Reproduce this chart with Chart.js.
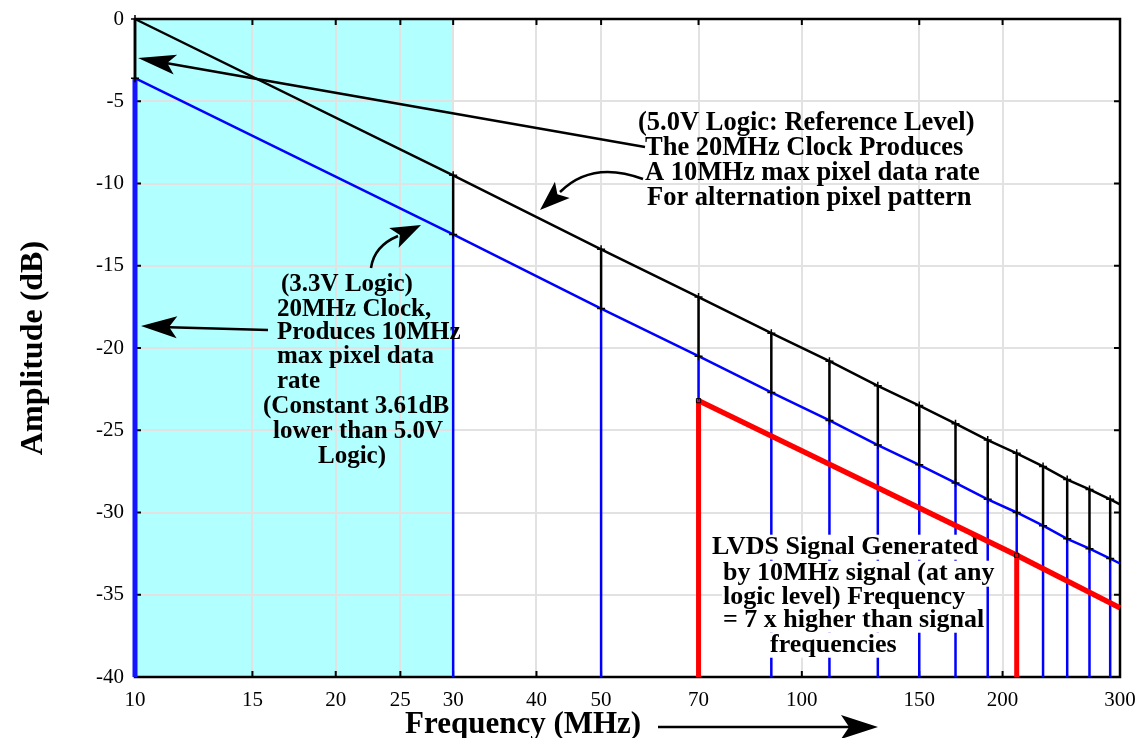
<!DOCTYPE html>
<html>
<head>
<meta charset="utf-8">
<script src="https://cdn.jsdelivr.net/npm/chart.js@4.4.1/dist/chart.umd.min.js"></script>
<style>
html,body{margin:0;padding:0;background:#fff;}
canvas{display:block;}
</style>
</head>
<body>
<canvas id="spectrum" width="1142" height="738"></canvas>
<script>

// odd harmonics (MHz) of the 10MHz pixel pattern
const harmonics=[10,30,50,70,90,110,130,150,170,190,210,230,250,270,290];

// amplitude (dB) at each harmonic, 5.0V logic (reference)
const amp50=[0,-9.5,-14.0,-16.9,-19.1,-20.8,-22.3,-23.5,-24.6,-25.6,-26.4,-27.2,-28.0,-28.6,-29.2];

// amplitude (dB) at each harmonic, 3.3V logic
const amp33=[-3.6,-13.1,-17.6,-20.5,-22.7,-24.4,-25.9,-27.1,-28.2,-29.2,-30.0,-30.8,-31.6,-32.2,-32.8];

// envelopes run on to the right edge
const endFreq=300;
const amp50End=-29.5;
const amp33End=-33.1;

// LVDS envelope (MHz, dB) and its two stems
const lvdsFreq=[70,210,300];
const lvdsAmp=[-23.2,-32.6,-35.8];
const lvdsStemCount=2;

// shaded band
const bandFreq=[10,30];

// axes
const xTickValues=[10,15,20,25,30,40,50,70,100,150,200,300];
const xMin=10;
const xMax=300;
const yMin=-40;
const yMax=0;
const yStep=5;

const FONT="'Liberation Serif','Times New Roman',serif";
Chart.defaults.font.family=FONT;
Chart.defaults.color="#000";


function stems(freqs,lows,highs){
    let pts=[];
    freqs.forEach((f,i)=>{
        pts.push({x:f,y:lows[i]});
        pts.push({x:f,y:highs[i]});
        pts.push({x:f,y:null});
    });
    return pts;
}

function envelope(freqs,amps,lastFreq,lastAmp){
    let pts=freqs.map((f,i)=>({x:f,y:amps[i]}));
    if(lastFreq!==undefined){
        pts.push({x:lastFreq,y:lastAmp});
    }
    return pts;
}

const bottoms=harmonics.map(()=>yMin);


function arrowHead(ctx,tipX,tipY,fromX,fromY,len,half){
    const a=Math.atan2(tipY-fromY,tipX-fromX);
    ctx.save();
    ctx.translate(tipX,tipY);
    ctx.rotate(a);
    ctx.beginPath();
    ctx.moveTo(0,0);
    ctx.lineTo(-len,-half);
    ctx.lineTo(-len*0.78,0);
    ctx.lineTo(-len,half);
    ctx.closePath();
    ctx.fill();
    ctx.restore();
}

function textBlock(ctx,lines,font,withBox){
    ctx.font=font;
    ctx.textBaseline="middle";
    ctx.textAlign="left";
    if(withBox){
        ctx.fillStyle="#fff";
        lines.forEach(l=>{
            const m=ctx.measureText(l[0]);
            ctx.fillRect(
                l[1]-1,
                l[2]-m.actualBoundingBoxAscent-1,
                m.width+1,
                m.actualBoundingBoxAscent+m.actualBoundingBoxDescent+2
            );
        });
    }
    ctx.fillStyle="#000";
    lines.forEach(l=>{
        ctx.fillText(l[0],l[1],l[2]);
    });
}

const note50=[
    ["(5.0V Logic: Reference Level)",638,123],
    ["The 20MHz Clock Produces",645,148],
    ["A 10MHz max pixel data rate",645,173],
    ["For alternation pixel pattern",647,198]
];

const note33=[
    ["(3.3V Logic)",281,285],
    ["20MHz Clock,",277,310],
    ["Produces 10MHz",277,333],
    ["max pixel data",277,357],
    ["rate",277,382],
    ["(Constant 3.61dB",263,407],
    ["lower than 5.0V",273,432],
    ["Logic)",318,457]
];

const noteLvds=[
    ["LVDS Signal Generated",712,547],
    ["by 10MHz signal (at any",723,573],
    ["logic level) Frequency",723,597],
    ["= 7 x higher than signal",723,620],
    ["frequencies",770,645]
];

// index of the dataset drawn last (LVDS envelope); the boxed note goes just under it
const TOP_DATASET=0;


const decor={
    id:"decor",

    beforeDraw(chart){
        const {ctx,chartArea:a,scales:{x}}=chart;
        const x0=x.getPixelForValue(bandFreq[0]);
        const x1=x.getPixelForValue(bandFreq[1]);
        ctx.save();
        ctx.fillStyle="#b2ffff";
        ctx.fillRect(x0,a.top,x1-x0,a.bottom-a.top);
        ctx.restore();
    },

    beforeDatasetsDraw(chart){
        const {ctx,chartArea:a,scales:{x,y}}=chart;
        ctx.save();
        ctx.strokeStyle="#000";
        ctx.lineWidth=2.5;
        ctx.strokeRect(a.left,a.top,a.right-a.left,a.bottom-a.top);
        ctx.lineWidth=2;
        ctx.beginPath();
        x.ticks.forEach(t=>{
            const px=x.getPixelForValue(t.value);
            if(px<=a.left+1 || px>=a.right-1) return;
            ctx.moveTo(px,a.bottom);
            ctx.lineTo(px,a.bottom-6);
            ctx.moveTo(px,a.top);
            ctx.lineTo(px,a.top+6);
        });
        y.ticks.forEach(t=>{
            const py=y.getPixelForValue(t.value);
            if(py<=a.top+1 || py>=a.bottom-1) return;
            ctx.moveTo(a.left,py);
            ctx.lineTo(a.left+6,py);
            ctx.moveTo(a.right,py);
            ctx.lineTo(a.right-6,py);
        });
        ctx.stroke();
        ctx.restore();
    },

    beforeDatasetDraw(chart,args){
        if(args.index!==TOP_DATASET) return;
        const ctx=chart.ctx;
        ctx.save();
        textBlock(ctx,noteLvds,"bold 26px "+FONT,true);
        ctx.restore();
    },

    afterDatasetsDraw(chart){
        const ctx=chart.ctx;
        ctx.save();

        textBlock(ctx,note50,"bold 26.5px "+FONT,false);
        textBlock(ctx,note33,"bold 25px "+FONT,false);

        ctx.strokeStyle="#000";
        ctx.fillStyle="#000";
        ctx.lineWidth=2.5;

        // 5.0V note -> top of 10MHz stem
        ctx.beginPath();
        ctx.moveTo(645,147);
        ctx.lineTo(160,62);
        ctx.stroke();
        arrowHead(ctx,138,58,645,147,38,10);

        // 5.0V note -> black envelope
        ctx.beginPath();
        ctx.moveTo(643,179);
        ctx.quadraticCurveTo(592,160,560,192);
        ctx.stroke();
        arrowHead(ctx,540,210,560,192,30,11);

        // 3.3V note -> blue envelope
        ctx.beginPath();
        ctx.moveTo(371,268);
        ctx.quadraticCurveTo(374,246,398,236);
        ctx.stroke();
        arrowHead(ctx,421,225,398,236,30,11);

        // 3.3V note -> 10MHz blue stem
        ctx.beginPath();
        ctx.moveTo(268,330);
        ctx.lineTo(160,327);
        ctx.stroke();
        arrowHead(ctx,141,326,268,330,36,11);

        // x axis title with arrow
        ctx.font="bold 31px "+FONT;
        ctx.textAlign="left";
        ctx.textBaseline="alphabetic";
        ctx.fillText("Frequency (MHz)",405,733);
        ctx.beginPath();
        ctx.moveTo(658,727);
        ctx.lineTo(850,727);
        ctx.stroke();
        arrowHead(ctx,878,727,658,727,37,12);

        ctx.restore();
    }
};


new Chart(
    document.getElementById("spectrum"),
    {
        type:"scatter",
        data:{
            datasets:[
                {
                    // LVDS envelope
                    data:envelope(lvdsFreq,lvdsAmp),
                    showLine:true,
                    clip:false,
                    borderColor:"#ff0000",
                    borderWidth:5.5,
                    pointStyle:"rect",
                    pointRadius:[3,3,0],
                    pointBorderColor:"#000",
                    pointBackgroundColor:"rgba(0,0,0,0)",
                    pointBorderWidth:1
                },
                {
                    // LVDS stems
                    data:stems(
                        lvdsFreq.slice(0,lvdsStemCount),
                        lvdsFreq.slice(0,lvdsStemCount).map(()=>yMin),
                        lvdsAmp.slice(0,lvdsStemCount)
                    ),
                    showLine:true,
                    clip:false,
                    borderColor:"#ff0000",
                    borderWidth:5,
                    pointRadius:0
                },
                {
                    // 5.0V envelope
                    data:envelope(harmonics,amp50,endFreq,amp50End),
                    showLine:true,
                    clip:false,
                    borderColor:"#000",
                    borderWidth:2.5,
                    pointStyle:"cross",
                    pointRadius:harmonics.map(()=>4).concat([0]),
                    pointBorderColor:"#000",
                    pointBorderWidth:1.5
                },
                {
                    // 3.3V envelope
                    data:envelope(harmonics,amp33,endFreq,amp33End),
                    showLine:true,
                    clip:false,
                    borderColor:"#0000ff",
                    borderWidth:2.5,
                    pointStyle:"cross",
                    pointRadius:harmonics.map(()=>4).concat([0]),
                    pointBorderColor:"#000",
                    pointBorderWidth:1.5
                },
                {
                    // gap between 5.0V and 3.3V levels
                    data:stems(harmonics,amp33,amp50),
                    showLine:true,
                    clip:false,
                    borderColor:"#000",
                    borderWidth:2.5,
                    pointRadius:0
                },
                {
                    // 3.3V stems
                    data:stems(harmonics.slice(1),bottoms.slice(1),amp33.slice(1)),
                    showLine:true,
                    clip:false,
                    borderColor:"#0000ff",
                    borderWidth:2.5,
                    pointRadius:0
                },
                {
                    // fundamental stem
                    data:stems(harmonics.slice(0,1),bottoms.slice(0,1),amp33.slice(0,1)),
                    showLine:true,
                    clip:false,
                    borderColor:"#1414ff",
                    borderWidth:5,
                    pointRadius:0
                }
            ]
        },
        options:{
            responsive:false,
            animation:false,
            events:[],
            layout:{
                padding:{top:19,right:22,left:0,bottom:0}
            },
            plugins:{
                legend:{display:false},
                tooltip:{enabled:false}
            },
            scales:{
                x:{
                    type:"logarithmic",
                    min:xMin,
                    max:xMax,
                    afterBuildTicks:s=>{
                        s.ticks=xTickValues.map(v=>({value:v}));
                    },
                    afterFit:s=>{
                        s.height=61;
                        s.paddingLeft=0;
                        s.paddingRight=0;
                    },
                    grid:{
                        color:"#e2e2e2",
                        lineWidth:2,
                        drawTicks:false
                    },
                    border:{display:false},
                    ticks:{
                        color:"#000",
                        font:{size:21},
                        padding:11,
                        autoSkip:false,
                        maxRotation:0,
                        callback:v=>String(v)
                    }
                },
                y:{
                    min:yMin,
                    max:yMax,
                    afterFit:s=>{
                        s.width=135;
                        s.paddingTop=0;
                        s.paddingBottom=0;
                    },
                    grid:{
                        color:"#e2e2e2",
                        lineWidth:2,
                        drawTicks:false
                    },
                    border:{display:false},
                    ticks:{
                        stepSize:yStep,
                        color:"#000",
                        font:{size:21},
                        padding:11
                    },
                    title:{
                        display:true,
                        text:"Amplitude (dB)",
                        color:"#000",
                        font:{size:32,weight:"bold"},
                        padding:{top:15,bottom:0}
                    }
                }
            }
        },
        plugins:[decor]
    }
);
</script>
</body>
</html>
